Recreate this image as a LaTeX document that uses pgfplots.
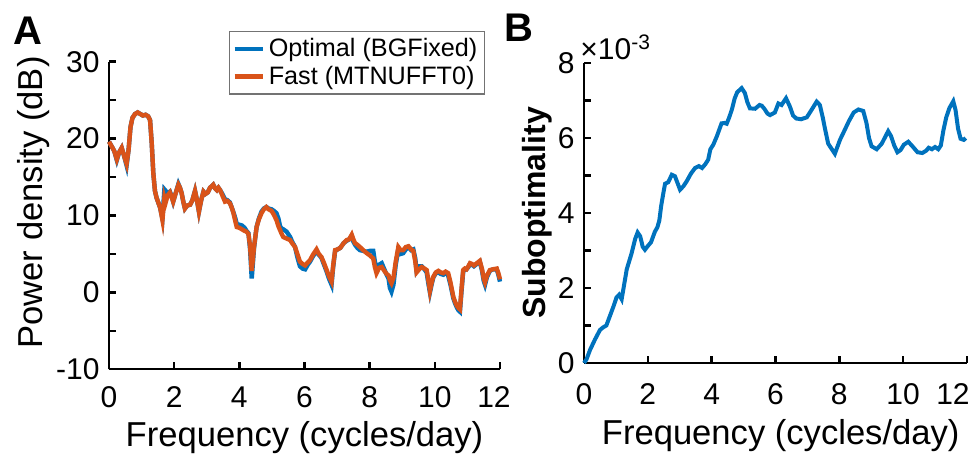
\documentclass[border=0pt]{standalone}
\usepackage{fontspec}
\setmainfont{Liberation Sans}
\usepackage{pgfplots}
\usepackage{pgfplotstable}
\pgfplotsset{compat=1.18}

\definecolor{mblue}{RGB}{0,114,189}
\definecolor{morange}{RGB}{217,83,25}

% power spectrum: x, fast (MTNUFFT0), optimal (BGFixed)
\pgfplotstableread{
x     r     b
0.00  19.6  19.6
0.08  19.0  19.0
0.16  18.4  18.4
0.24  17.3  17.2
0.31  18.2  18.2
0.39  18.8  18.8
0.46  17.8  17.8
0.54  16.7  16.5
0.60  18.5  18.5
0.66  21.5  21.5
0.72  22.7  22.7
0.80  23.2  23.2
0.88  23.4  23.4
0.96  23.2  23.2
1.04  23.0  23.0
1.12  23.1  23.1
1.20  22.9  22.9
1.26  22.4  22.4
1.31  19.5  19.5
1.36  15.5  15.5
1.41  13.2  13.2
1.46  12.3  12.3
1.52  11.6  11.6
1.57  11.0  11.0
1.64  9.4   9.6
1.70  12.3  13.4
1.74  11.7  13.2
1.80  12.6  12.9
1.87  13.0  13.1
1.93  12.3  12.4
1.97  11.8  11.8
2.04  12.8  12.8
2.13  14.0  14.1
2.18  13.6  13.6
2.23  12.9  12.9
2.28  11.8  11.8
2.33  10.9  10.9
2.40  11.3  11.3
2.49  11.4  11.4
2.56  12.0  12.0
2.64  13.2  13.2
2.70  12.0  12.0
2.76  10.5  10.5
2.83  12.0  12.0
2.90  13.1  13.1
2.96  12.8  12.8
3.03  13.0  13.0
3.10  13.6  13.6
3.20  14.0  14.0
3.26  13.5  13.5
3.31  13.3  13.3
3.36  13.6  13.6
3.41  13.3  13.3
3.48  12.6  12.8
3.56  11.8  12.1
3.63  11.9  12.0
3.71  11.6  11.7
3.77  11.0  11.0
3.82  10.3  10.4
3.88  9.2   9.6
3.92  8.5   8.9
4.00  8.4   8.8
4.08  8.2   8.7
4.16  8.0   8.4
4.22  7.9   8.0
4.28  7.6   7.7
4.33  6.0   5.6
4.38  2.8   1.8
4.42  4.5   4.0
4.45  5.9   5.7
4.50  7.5   7.5
4.53  8.5   8.5
4.60  9.5   9.6
4.68  10.3  10.5
4.75  10.8  10.9
4.83  11.1  11.1
4.90  10.8  10.9
4.99  10.6  10.8
5.06  10.1  10.6
5.14  9.4   10.3
5.20  8.6   9.6
5.25  8.1   8.6
5.30  7.6   8.3
5.35  7.2   8.2
5.45  7.0   7.9
5.56  6.8   7.2
5.62  6.4   6.6
5.71  5.9   5.9
5.78  5.0   4.6
5.86  4.0   3.4
5.94  3.7   3.1
6.02  3.5   3.0
6.10  3.9   3.6
6.17  4.2   4.0
6.26  4.9   4.7
6.37  5.6   5.4
6.44  5.0   4.9
6.52  4.6   4.5
6.60  3.8   3.6
6.68  2.9   2.7
6.76  2.0   1.7
6.83  1.4   1.0
6.88  3.5   3.3
6.94  5.5   5.4
7.02  5.6   5.6
7.10  5.8   5.8
7.20  6.4   6.4
7.29  6.8   6.7
7.37  6.9   6.9
7.45  7.5   7.3
7.50  6.9   6.6
7.55  6.4   6.2
7.62  6.2   5.8
7.70  5.9   5.5
7.80  5.5   5.4
7.91  5.1   5.3
8.01  4.8   5.4
8.11  4.4   5.4
8.16  3.3   4.0
8.21  2.5   3.0
8.29  3.2   3.6
8.37  3.3   3.8
8.45  2.8   3.0
8.52  2.4   2.3
8.58  2.2   1.8
8.62  1.6   0.6
8.67  1.2   0.1
8.73  1.9   1.0
8.80  4.0   3.6
8.88  5.9   5.6
8.95  5.5   5.0
9.03  5.5   5.1
9.11  5.9   5.6
9.19  6.0   5.9
9.27  5.6   5.5
9.34  5.4   5.6
9.40  4.0   4.4
9.44  2.6   2.8
9.52  3.0   3.4
9.60  3.3   3.4
9.68  3.1   3.0
9.75  2.9   2.6
9.80  1.6   1.2
9.85  0.2   0.0
9.90  1.2   1.0
9.95  2.0   1.9
10.03 2.6   2.5
10.11 2.8   2.6
10.18 2.6   2.4
10.26 2.5   2.3
10.33 2.7   2.6
10.41 2.5   2.2
10.48 1.3   1.0
10.57 -0.6  -0.8
10.62 -1.2  -1.4
10.67 -1.7  -1.9
10.72 -2.0  -2.3
10.77 -2.2  -2.5
10.82 0.5   0.2
10.87 2.9   2.7
10.92 3.1   3.0
10.97 3.0   3.0
11.03 3.4   3.3
11.08 3.8   3.7
11.14 3.7   3.6
11.20 3.5   3.4
11.29 3.8   3.7
11.38 4.1   4.0
11.45 3.0   2.8
11.50 1.8   1.5
11.54 1.3   1.0
11.60 2.2   2.0
11.69 2.9   2.8
11.78 3.0   3.0
11.90 3.1   3.0
11.95 2.5   2.3
12.00 1.7   1.4
}\spectrum

% suboptimality (x 10^-3)
\pgfplotstableread{
x     s
0.00  0.00
0.08  0.10
0.19  0.35
0.34  0.62
0.50  0.88
0.60  0.95
0.70  1.00
0.81  1.25
0.92  1.50
1.02  1.75
1.10  1.82
1.18  1.70
1.25  2.05
1.34  2.50
1.49  2.92
1.60  3.30
1.68  3.48
1.76  3.38
1.84  3.10
1.91  3.02
2.00  3.12
2.10  3.22
2.22  3.50
2.30  3.62
2.36  3.80
2.42  4.20
2.49  4.55
2.54  4.78
2.64  4.82
2.75  5.02
2.85  4.98
2.93  4.80
3.01  4.62
3.12  4.72
3.22  4.85
3.35  5.05
3.48  5.20
3.60  5.25
3.70  5.20
3.80  5.30
3.89  5.42
3.96  5.70
4.05  5.82
4.16  6.04
4.31  6.39
4.40  6.40
4.47  6.38
4.55  6.55
4.63  6.75
4.72  7.05
4.80  7.22
4.94  7.33
5.04  7.20
5.12  6.95
5.20  6.79
5.36  6.78
5.50  6.88
5.57  6.86
5.65  6.78
5.75  6.65
5.83  6.61
5.98  6.68
6.09  6.92
6.19  6.88
6.33  7.06
6.45  6.84
6.55  6.60
6.65  6.52
6.80  6.50
6.98  6.55
7.13  6.75
7.29  6.97
7.39  6.88
7.48  6.55
7.55  6.25
7.65  5.85
7.75  5.72
7.86  5.58
8.02  5.95
8.15  6.18
8.30  6.45
8.45  6.68
8.60  6.76
8.75  6.72
8.85  6.40
8.93  6.00
9.01  5.78
9.17  5.70
9.33  5.85
9.45  6.05
9.53  6.18
9.62  6.05
9.72  5.80
9.82  5.62
9.92  5.68
10.02 5.82
10.16 5.90
10.31 5.76
10.45 5.62
10.60 5.60
10.72 5.66
10.80 5.74
10.90 5.70
11.00 5.76
11.10 5.70
11.18 5.80
11.26 6.20
11.35 6.55
11.45 6.80
11.57 6.98
11.64 6.75
11.72 6.25
11.80 5.98
11.90 5.95
11.96 6.00
}\subopt

\pgfplotsset{
  matlab/.style={
    scale only axis,
    clip=false,
    axis x line*=bottom,
    axis y line*=left,
    axis line style={line width=1.2pt,black},
    every tick/.style={line width=1.2pt,black},
    major tick length=3.5pt,
    minor tick length=3.5pt,
    tick align=inside,
    xmin=0, xmax=12,
    xtick={0,2,...,10},
    extra x ticks={12},
    minor y tick num=1,
    ticklabel style={font=\fontsize{15}{18}\selectfont},
    /pgf/number format/assume math mode=true,
    yticklabel style={anchor=east,inner sep=0pt,xshift=-4.5pt},
    label style={font=\fontsize{17.3}{20}\selectfont},
    xlabel={Frequency (cycles/day)},
  }
}

\begin{document}
\begin{tikzpicture}
\useasboundingbox (0,0) rectangle (488pt,229pt);

\begin{axis}[matlab,
    at={(54.5pt,44.35pt)}, anchor=south west,
    width=195.5pt, height=153.8pt,
    ymin=-10, ymax=30,
    ytick={-10,0,10,20,30},
    xticklabel style={anchor=base,yshift=-18.9pt},
    extra x tick style={xticklabel style={xshift=-3pt}},
    ylabel={Power density (dB)},
    xlabel style={at={(axis description cs:0.5,0)},anchor=base,yshift=-38.4pt},
    % rotated label: yshift moves it left, xshift moves it up
    ylabel style={at={(axis description cs:0,0.5)},anchor=base,yshift=33pt,xshift=6.5pt},
    legend style={at={(axis description cs:1,1)},anchor=north east,
      xshift=-7.5pt,yshift=15.4pt,draw=black!55,line width=0.6pt,
      font=\fontsize{12.6}{14}\selectfont,inner sep=1.5pt,row sep=-1pt},
    legend cell align=left,
    legend image code/.code={\draw[#1] (0pt,0pt) -- (14pt,0pt);},
  ]
\addplot[mblue, line width=2.2pt] table[x=x,y=b] {\spectrum};
\addlegendentry{Optimal (BGFixed)}
\addplot[morange, line width=2.2pt] table[x=x,y=r] {\spectrum};
\addlegendentry{Fast (MTNUFFT0)}
\end{axis}

\begin{axis}[matlab,
    at={(292pt,47.5pt)}, anchor=south west,
    width=191.5pt, height=150pt,
    ymin=0, ymax=8,
    ytick={0,2,...,8},
    xticklabel style={anchor=base,yshift=-21pt},
    extra x tick style={xticklabel style={xshift=-7pt}},
    ylabel={Suboptimality},
    xlabel style={at={(axis description cs:0.5,0)},anchor=base,yshift=-41pt,xshift=2.6pt},
    ylabel style={at={(axis description cs:0,0.5)},anchor=base,yshift=19.5pt,
      font=\bfseries\fontsize{16}{19}\selectfont},
  ]
\addplot[mblue, line width=2pt] table[x=x,y=s] {\subopt};
\node[anchor=base west,inner sep=0pt,font=\fontsize{15}{18}\selectfont,
  xshift=-2pt,yshift=1.5pt] at (rel axis cs:0,1) {×10\textsuperscript{-3}};
\end{axis}

\node[font=\bfseries\fontsize{20}{24}\selectfont] at (13.75pt,213.5pt) {A};
\node[font=\bfseries\fontsize{20}{24}\selectfont] at (259.5pt,215pt) {B};
\end{tikzpicture}
\end{document}
